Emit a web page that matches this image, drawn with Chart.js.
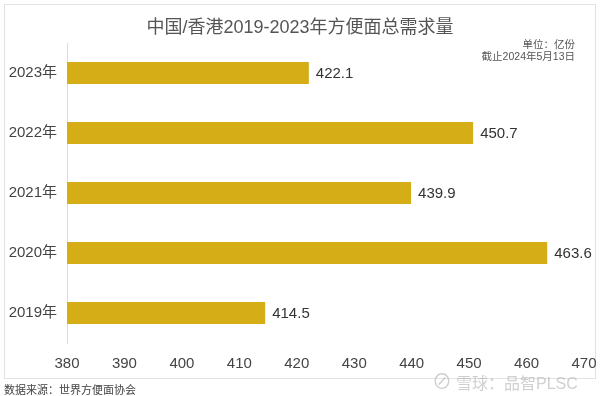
<!DOCTYPE html>
<html>
<head>
<meta charset="utf-8">
<script src="https://cdn.jsdelivr.net/npm/chart.js@4.4.1/dist/chart.umd.min.js"></script>
<style>
    body { margin: 0; background: #fff; }
    #wrap { position: relative; width: 600px; height: 396px; overflow: hidden; }
    #frame { position: absolute; left: 4px; top: 4px; width: 592px; height: 375px; box-sizing: border-box; border: 1px solid #e2e2e2; }
    canvas { position: absolute; left: 0; top: 0; }
    .txt { position: absolute; white-space: nowrap; color: #555; font-family: "Liberation Sans", "Noto Sans CJK SC", sans-serif; }
    #title { left: 0; width: 600px; top: 12px; text-align: center; font-size: 18px; color: #555; }
    #unit { right: 25px; top: 38px; font-size: 10.5px; text-align: right; line-height: 12px; color: #555; }
    #source { left: 4px; top: 381px; font-size: 11px; color: #444; }
    #mark { left: 432px; top: 366px; font-size: 16px; color: rgba(170,170,170,0.55); }
    #mark span { font-size: 20px; margin-right: 4px; }
</style>
</head>
<body>
<div id="wrap">
    <div id="frame"></div>
    <canvas id="chart" width="600" height="396"></canvas>
    <div id="title" class="txt">中国/香港2019-2023年方便面总需求量</div>
    <div id="unit" class="txt">单位：亿份<br>截止2024年5月13日</div>
    <div id="source" class="txt">数据来源：世界方便面协会</div>
    <div id="mark" class="txt"><span>⊘</span>雪球：品智PLSC</div>
</div>
<script>
const years = ['2019年', '2020年', '2021年', '2022年', '2023年'];
const demand = [414.5, 463.6, 439.9, 450.7, 422.1];
const xMin = 380, xMax = 470, xStep = 10;

const FONT = '"Liberation Sans", "Noto Sans CJK SC", sans-serif';

// value labels at the end of each bar
const valueLabels = {
    id: 'valueLabels',
    afterDatasetsDraw(chart) {
        const ctx = chart.ctx;
        const meta = chart.getDatasetMeta(0);
        ctx.save();
        ctx.font = '15px ' + FONT;
        ctx.fillStyle = '#333';
        ctx.textAlign = 'left';
        ctx.textBaseline = 'middle';
        meta.data.forEach((bar, i) => {
            ctx.fillText(demand[i].toFixed(1), bar.x + 7, bar.y + 1);
        });
        ctx.restore();
    }
};

new Chart(document.getElementById('chart').getContext('2d'), {
    type: 'bar',
    data: {
        labels: years,
        datasets: [{
            data: demand,
            backgroundColor: '#D5AD17',
            barPercentage: 0.367,
            categoryPercentage: 1
        }]
    },
    options: {
        indexAxis: 'y',
        responsive: false,
        animation: false,
        layout: { padding: { left: 0, right: 16, top: 43, bottom: 0 } },
        scales: {
            x: {
                min: xMin,
                max: xMax,
                grid: { display: false, drawTicks: false },
                border: { display: false },
                ticks: { stepSize: xStep, padding: 12, color: '#444', font: { size: 15, family: FONT } },
                afterFit: s => { s.height = 53; s.paddingLeft = 0; s.paddingRight = 0; }
            },
            y: {
                reverse: true,
                grid: { display: false, drawTicks: false },
                border: { display: true, color: '#dcdcdc' },
                ticks: { padding: 10, color: '#444', font: { size: 15, family: FONT } },
                afterFit: s => { s.width = 67; }
            }
        },
        plugins: {
            legend: { display: false },
            tooltip: { enabled: false }
        }
    },
    plugins: [valueLabels]
});
</script>
</body>
</html>
